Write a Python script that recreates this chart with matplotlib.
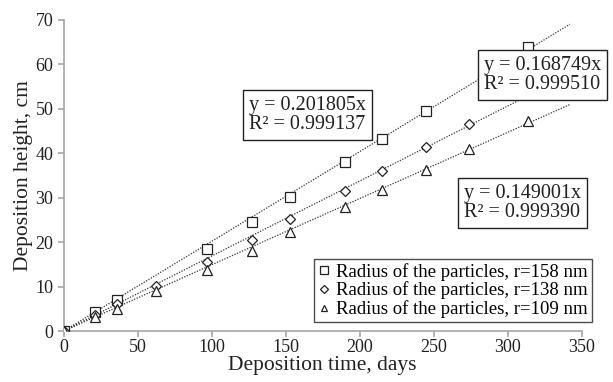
import matplotlib
matplotlib.use("Agg")
import matplotlib.pyplot as plt
import numpy as np

plt.rcParams['font.family'] = ['Liberation Serif', 'DejaVu Serif']

days_158 = [0, 21, 36, 97, 127, 153, 190, 215, 245, 314]
h_158 = [0, 4.2, 7.0, 18.5, 24.5, 30.2, 38.0, 43.2, 49.5, 63.8]
days_138 = [0, 21, 36, 62, 97, 127, 153, 190, 215, 245, 274]
h_138 = [0, 3.7, 6.0, 10.2, 15.5, 20.5, 25.3, 31.5, 36.0, 41.3, 46.5]
days_109 = [0, 21, 36, 62, 97, 127, 153, 190, 215, 245, 274, 314]
h_109 = [0, 3.2, 5.0, 9.0, 13.8, 18.0, 22.2, 27.8, 31.8, 36.3, 41.0, 47.3]
slopes = [0.201805, 0.168749, 0.149001]
r2 = [0.999137, 0.999510, 0.999390]
labels = ['Radius of the particles, r=158 nm',
          'Radius of the particles, r=138 nm',
          'Radius of the particles, r=109 nm']
trend_end = 342

fig = plt.figure(figsize=(6.13, 3.82), dpi=100)
ax = fig.add_axes([0.104, 0.1335, 0.845, 0.8145])

series = [(days_158, h_158, 's', 7), (days_138, h_138, 'D', 5), (days_109, h_109, '^', 6.5)]
handles = []
for (d, h, m, ms), k, lab in zip(series, slopes, labels):
    xs = np.array([0, trend_end])
    ax.plot(xs, k * xs, linestyle=(0, (1, 1.2)), color='#333333', lw=0.9, zorder=2)
    hdl, = ax.plot(d, h, linestyle='none', marker=m, ms=ms, mfc='white', mec='#222222',
                   mew=0.9, zorder=3, label=lab)
    handles.append(hdl)

ax.set_xlim(0, 350)
ax.set_ylim(0, 70)
ax.set_xticks(range(0, 351, 50))
ax.set_yticks(range(0, 71, 10))
for s in ['top', 'right']:
    ax.spines[s].set_visible(False)
for s in ['left', 'bottom']:
    ax.spines[s].set_color('#a6a6a6')
    ax.spines[s].set_linewidth(1.2)
ax.tick_params(axis='both', colors='#a6a6a6', labelcolor='#222222', labelsize=13, length=4, width=1.2)
ax.tick_params(axis='x', pad=2)
ax.set_xlabel('Deposition time, days', fontsize=15.5, color='#222222', labelpad=0)
ax.set_ylabel('Deposition height, cm', fontsize=15.5, color='#222222', labelpad=2)

box = dict(boxstyle='square,pad=0.3', fc='white', ec='#222222', lw=1)
pos = [(249, 96), (484, 56), (464, 184)]
for (px, py), k, r in zip(pos, slopes, r2):
    fig.text(px / 613, 1 - py / 382, f'y = {k:.6f}x\nR² = {r:.6f}', fontsize=14.5, color='#222222',
             va='top', ha='left', bbox=box, linespacing=1.0)

leg = ax.legend(handles=handles, loc='upper left', bbox_to_anchor=(314 / 613, 1 - 259 / 382),
                bbox_transform=fig.transFigure, fontsize=13.5, frameon=True, fancybox=False,
                edgecolor='#222222', markerscale=0.75, handlelength=0.7, handletextpad=0.3,
                borderpad=0.2, labelspacing=0.05, borderaxespad=0)
leg.get_frame().set_linewidth(1)

fig.savefig('out.png', dpi=100)
